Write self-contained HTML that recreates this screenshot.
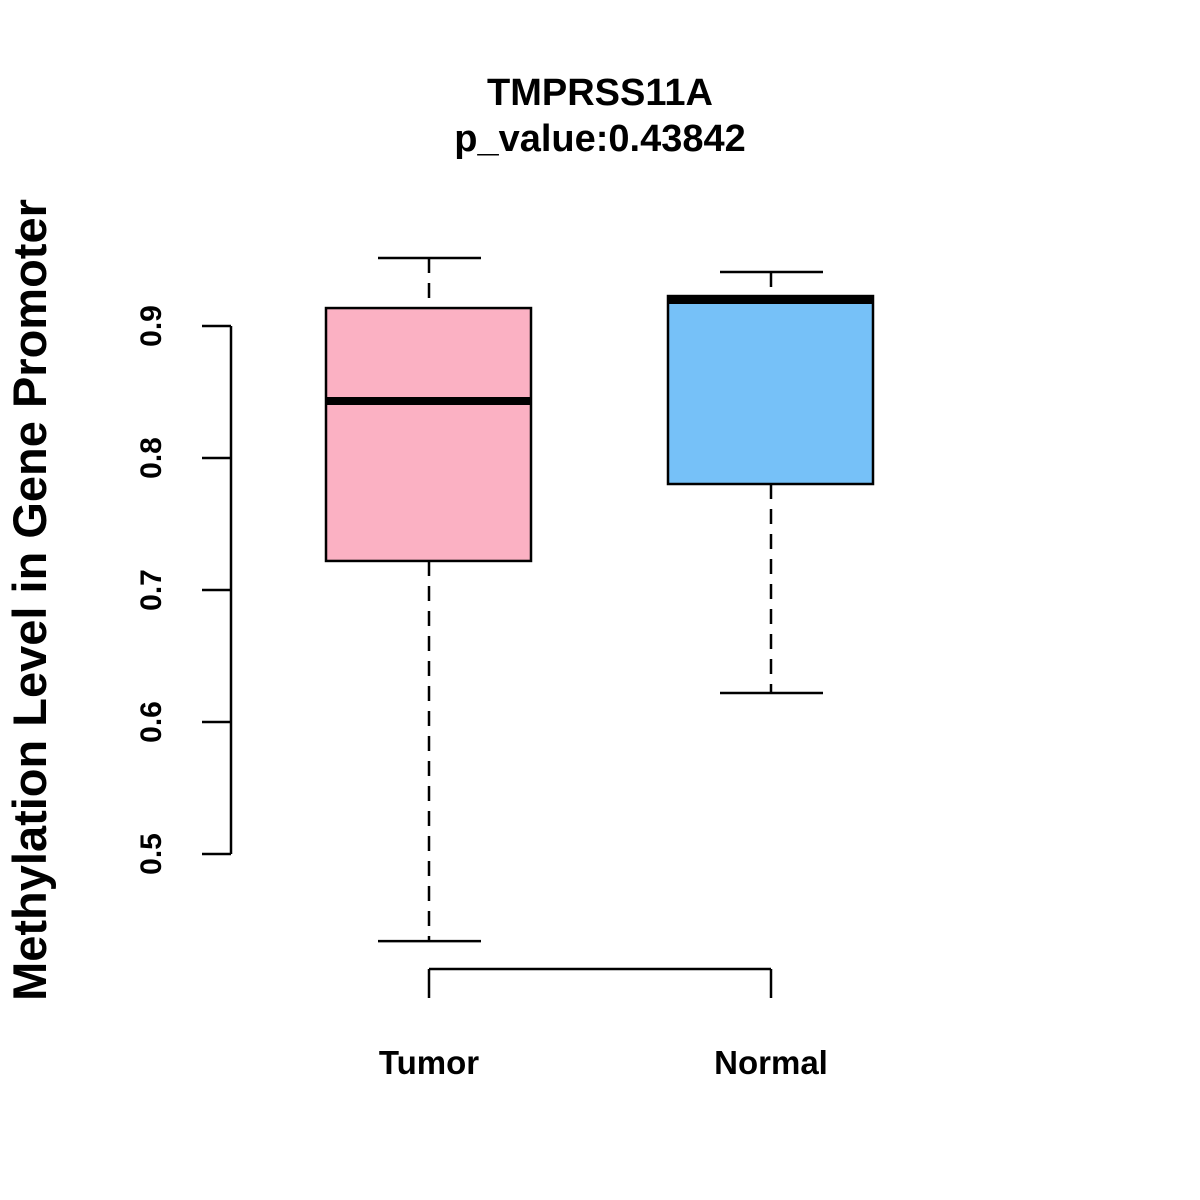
<!DOCTYPE html>
<html><head><meta charset="utf-8"><style>body{margin:0;background:#fff}svg{display:block}</style></head>
<body>
<svg id="chart" width="1200" height="1200" xmlns="http://www.w3.org/2000/svg" font-family="Liberation Sans, Arial, sans-serif" font-weight="bold">
<rect width="1200" height="1200" fill="#fff"/>
<text x="600" y="105" font-size="38" text-anchor="middle">TMPRSS11A</text>
<text x="600" y="151" font-size="38" text-anchor="middle">p_value:0.43842</text>
<text transform="translate(46,600) rotate(-90)" font-size="47" text-anchor="middle">Methylation Level in Gene Promoter</text>
<g id="g"></g>
</svg>
<script>
const categories = ["Tumor", "Normal"];
const whiskerLow = [0.434, 0.622];
const q1 = [0.722, 0.7803];
const medians = [0.8432, 0.9197];
const q3 = [0.9136, 0.9227];
const whiskerHigh = [0.9515, 0.9409];
const colors = ["#FBB1C3", "#76C1F8"];
const yTicks = [0.5, 0.6, 0.7, 0.8, 0.9];
const yTickLabels = ["0.5", "0.6", "0.7", "0.8", "0.9"];

const NS = "http://www.w3.org/2000/svg";
const g = document.getElementById("g");
const y = v => 854 - (v - 0.5) * 1320;
const x = i => 429 + i * 342;
function mk(tag, attrs, name) {
  const e = document.createElementNS(NS, tag);
  for (const k in attrs) e.setAttribute(k, attrs[k]);
  
  
  g.appendChild(e);
  return e;
}
mk("line", {x1: 231, x2: 231, y1: y(yTicks[yTicks.length-1]), y2: y(yTicks[0]), stroke: "#000", "stroke-width": 2.5}, 'y-axis-line');
yTicks.forEach((t, i) => {
  mk("line", {x1: 202, x2: 231, y1: y(t), y2: y(t), stroke: "#000", "stroke-width": 2.5}, 'y-tick');
  const tx = mk("text", {transform: `translate(161,${y(t)}) rotate(-90)`, "font-size": 30, "text-anchor": "middle"}, 'y-tick-label');
  tx.textContent = yTickLabels[i];
});
mk("line", {x1: x(0), x2: x(categories.length-1), y1: 969, y2: 969, stroke: "#000", "stroke-width": 2.5}, 'x-axis-line');
categories.forEach((c, i) => {
  mk("line", {x1: x(i), x2: x(i), y1: 969, y2: 998, stroke: "#000", "stroke-width": 2.5}, 'x-tick');
  const tx = mk("text", {x: x(i), y: 1074, "font-size": 33, "text-anchor": "middle"}, 'x-tick-label');
  tx.textContent = c;
  mk("line", {x1: x(i), x2: x(i), y1: y(whiskerHigh[i]), y2: y(q3[i]), stroke: "#000", "stroke-width": 2.5, "stroke-dasharray": "15,10"}, 'upper-whisker');
  mk("line", {x1: x(i), x2: x(i), y1: y(q1[i]), y2: y(whiskerLow[i]), stroke: "#000", "stroke-width": 2.5, "stroke-dasharray": "15,10"}, 'lower-whisker');
  mk("line", {x1: x(i)-51, x2: x(i)+52, y1: y(whiskerHigh[i]), y2: y(whiskerHigh[i]), stroke: "#000", "stroke-width": 2.5}, 'upper-cap');
  mk("line", {x1: x(i)-51, x2: x(i)+52, y1: y(whiskerLow[i]), y2: y(whiskerLow[i]), stroke: "#000", "stroke-width": 2.5}, 'lower-cap');
  mk("rect", {x: x(i)-103, y: y(q3[i]), width: 205, height: y(q1[i]) - y(q3[i]), fill: colors[i], stroke: "#000", "stroke-width": 2.5}, 'box-' + c.toLowerCase());
  mk("line", {x1: x(i)-103, x2: x(i)+102, y1: y(medians[i]), y2: y(medians[i]), stroke: "#000", "stroke-width": 8}, 'median-' + c.toLowerCase());
});
</script>
</body></html>
